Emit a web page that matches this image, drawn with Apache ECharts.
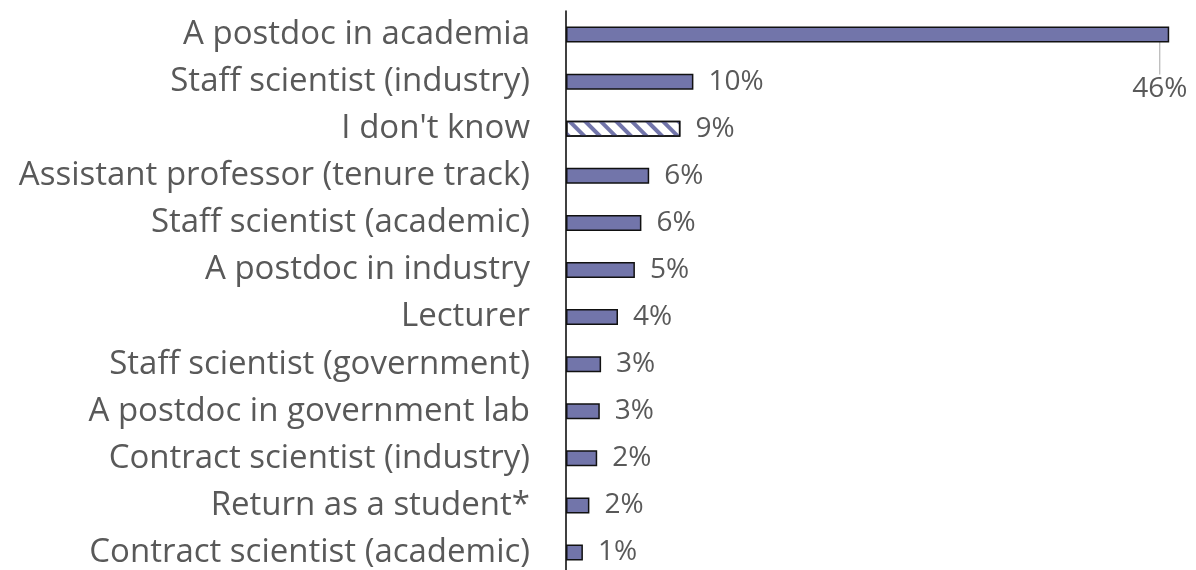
<!DOCTYPE html>
<html>
<head>
<meta charset="utf-8">
<script src="https://cdn.jsdelivr.net/npm/echarts@6/dist/echarts.min.js"></script>
<style>
  html, body { margin: 0; padding: 0; background: #fff; }
  #main { width: 1196px; height: 570px; }
</style>
</head>
<body>
<div id="main"></div>
<script>
// categories, top to bottom
var categories = [
  "A postdoc in academia",
  "Staff scientist (industry)",
  "I don't know",
  "Assistant professor (tenure track)",
  "Staff scientist (academic)",
  "A postdoc in industry",
  "Lecturer",
  "Staff scientist (government)",
  "A postdoc in government lab",
  "Contract scientist (industry)",
  "Return as a student*",
  "Contract scientist (academic)"
];
// percentages
var shares = [46.4, 9.8, 8.8, 6.4, 5.8, 5.3, 4.0, 2.7, 2.6, 2.4, 1.8, 1.3];
// the hatched bar
var hatchedCategory = "I don't know";

var barColor = "#7275aa";

var myChart = echarts.init(document.getElementById("main"));

var seriesData = shares.map(function (v, i) {
  var item = { value: v };
  if (categories[i] === hatchedCategory) {
    item.itemStyle = {
      color: "#ffffff",
      decal: {
        symbol: "rect",
        symbolSize: 1,
        color: barColor,
        dashArrayX: [1, 0],
        dashArrayY: [4, 7],
        rotation: Math.PI / 4
      }
    };
  }
  if (i === 0) {
    // the big bar's label hangs below its end with a guide line
    item.labelLine = { show: true, lineStyle: { color: "#a6a6a6", width: 1 } };
  }
  return item;
});

var option = {
  animation: false,
  grid: {
    left: 566,
    right: 6,
    top: 11,
    height: 565,
    outerBoundsMode: "none"
  },
  xAxis: {
    type: "value",
    min: 0,
    max: 48,
    show: false,
    splitLine: { show: false }
  },
  yAxis: {
    type: "category",
    inverse: true,
    data: categories,
    axisLine: { show: true, lineStyle: { color: "#000", width: 1.5 } },
    axisTick: { show: false },
    axisLabel: {
      margin: 36,
      color: "#595959",
      fontFamily: "Open Sans",
      fontSize: 33
    }
  },
  series: [
    {
      type: "bar",
      data: seriesData,
      barWidth: 16,
      itemStyle: {
        color: barColor,
        borderColor: "#111",
        borderWidth: 1.5
      },
      label: {
        show: true,
        position: "right",
        distance: 15,
        color: "#595959",
        fontFamily: "Open Sans",
        fontSize: 28,
        formatter: function (p) {
          return Math.round(p.value) + "%";
        }
      },
      labelLayout: function (params) {
        if (params.dataIndex === 0) {
          return { dx: -52, dy: 54 };
        }
        return {};
      }
    }
  ]
};

myChart.setOption(option);
</script>
</body>
</html>
